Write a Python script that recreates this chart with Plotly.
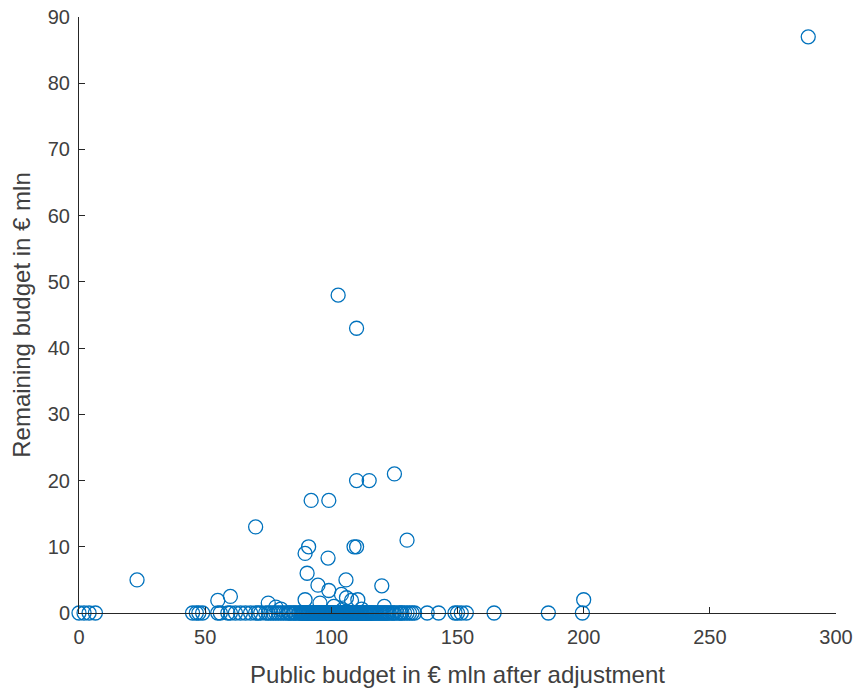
import plotly.graph_objects as go

# Points with remaining budget above zero
x_pos = [289, 102.7, 110, 125, 110, 115, 92, 99, 70, 130, 91, 89.6, 109, 110, 98.7,
         23, 90.4, 105.8, 94.7, 120, 99, 104, 106, 108, 60, 55, 75, 89.6, 110.5, 121,
         200, 95.5, 78, 80, 101, 104.5, 112]
y_pos = [87, 48, 43, 21, 20, 20, 17, 17, 13, 11, 10, 9, 10, 10, 8.3,
         5, 6, 5, 4.2, 4.1, 3.4, 2.8, 2.3, 1.9, 2.5, 1.9, 1.5, 2, 2, 1,
         2, 1.5, 0.9, 0.6, 1, 0.5, 0.6]

# Points with zero remaining budget
x_zero = [0, 2, 4, 6.5, 45, 46.5, 47.5, 49, 55, 56, 59, 60, 62, 64, 66, 68, 70, 71,
          72, 74, 75, 76, 77, 78, 79, 80, 81, 82, 83, 83.5, 84, 85, 85.5, 86, 87,
          87.5, 88, 89, 89.5, 90, 91, 91.5, 92, 93, 93.5, 94, 95, 95.5, 96, 97,
          97.5, 98, 99, 99.5, 100, 101, 101.5, 102, 103, 103.5, 104, 105, 105.5,
          106, 107, 107.5, 108, 109, 109.5, 110, 111, 111.5, 112, 113, 113.5, 114,
          115, 115.5, 116, 117, 118, 119, 119.5, 120, 121, 122, 123, 124, 125,
          126, 127, 128, 129, 130, 131, 132, 133, 138, 142.5, 149, 150, 151.5,
          153.5, 164.5, 186, 199.5]
# Dense cluster of zero-remaining projects between roughly 88 and 125
x_zero_dense = [88.3, 88.7, 89.2, 89.8, 90.2, 90.7, 91.2, 91.8, 92.3, 92.7, 93.2,
                93.8, 94.3, 94.7, 95.2, 95.8, 96.3, 96.7, 97.2, 97.8, 98.3, 98.7,
                99.2, 99.8, 100.3, 100.7, 101.2, 101.8, 102.3, 102.7, 103.2, 103.8,
                104.3, 104.7, 105.2, 105.8, 106.3, 106.7, 107.2, 107.8, 108.3,
                108.7, 109.2, 109.8, 110.3, 110.7, 111.2, 111.8, 112.3, 112.7,
                113.2, 113.8, 114.3, 114.7, 115.2, 115.8, 116.5, 117.5, 118.5,
                120.5, 121.5, 122.5, 124.5, 127.5]
y_zero = [0] * (len(x_zero) + len(x_zero_dense))

x_vals = x_pos + x_zero + x_zero_dense
y_vals = y_pos + y_zero

x_ticks = [0, 50, 100, 150, 200, 250, 300]
y_ticks = [0, 10, 20, 30, 40, 50, 60, 70, 80, 90]

blue = "#0072BD"
axcol = "#262626"
font_family = "Liberation Sans, Arial, sans-serif"

fig = go.Figure(go.Scatter(
    x=x_vals, y=y_vals, mode="markers", cliponaxis=False,
    marker=dict(symbol="circle-open", size=14, color=blue, line=dict(width=1.3, color=blue)),
    showlegend=False,
))

axis_common = dict(
    showline=True, linecolor=axcol, linewidth=1, mirror=False,
    ticks="inside", ticklen=6, tickcolor=axcol, tickwidth=1,
    showgrid=False, zeroline=False, automargin=False,
    tickfont=dict(family=font_family, size=20, color="#404040"),
    title_font=dict(family=font_family, size=24, color="#404040"),
    layer="above traces",
)

fig.update_xaxes(range=[0, 300], tickvals=x_ticks,
                 title_text="Public budget in € mln after adjustment",
                 ticklabelstandoff=6, title_standoff=19, **axis_common)
fig.update_yaxes(range=[0, 90], tickvals=y_ticks,
                 title_text="Remaining budget in € mln",
                 ticklabelstandoff=4, title_standoff=10, **axis_common)

fig.update_layout(
    width=856, height=691,
    margin=dict(l=79, r=20, t=17, b=78, autoexpand=False),
    plot_bgcolor="white", paper_bgcolor="white",
    font=dict(family=font_family),
)

fig.write_html("out.html", config={"displayModeBar": False},
               post_script="document.body.style.margin='0';document.body.style.overflow='hidden';")
